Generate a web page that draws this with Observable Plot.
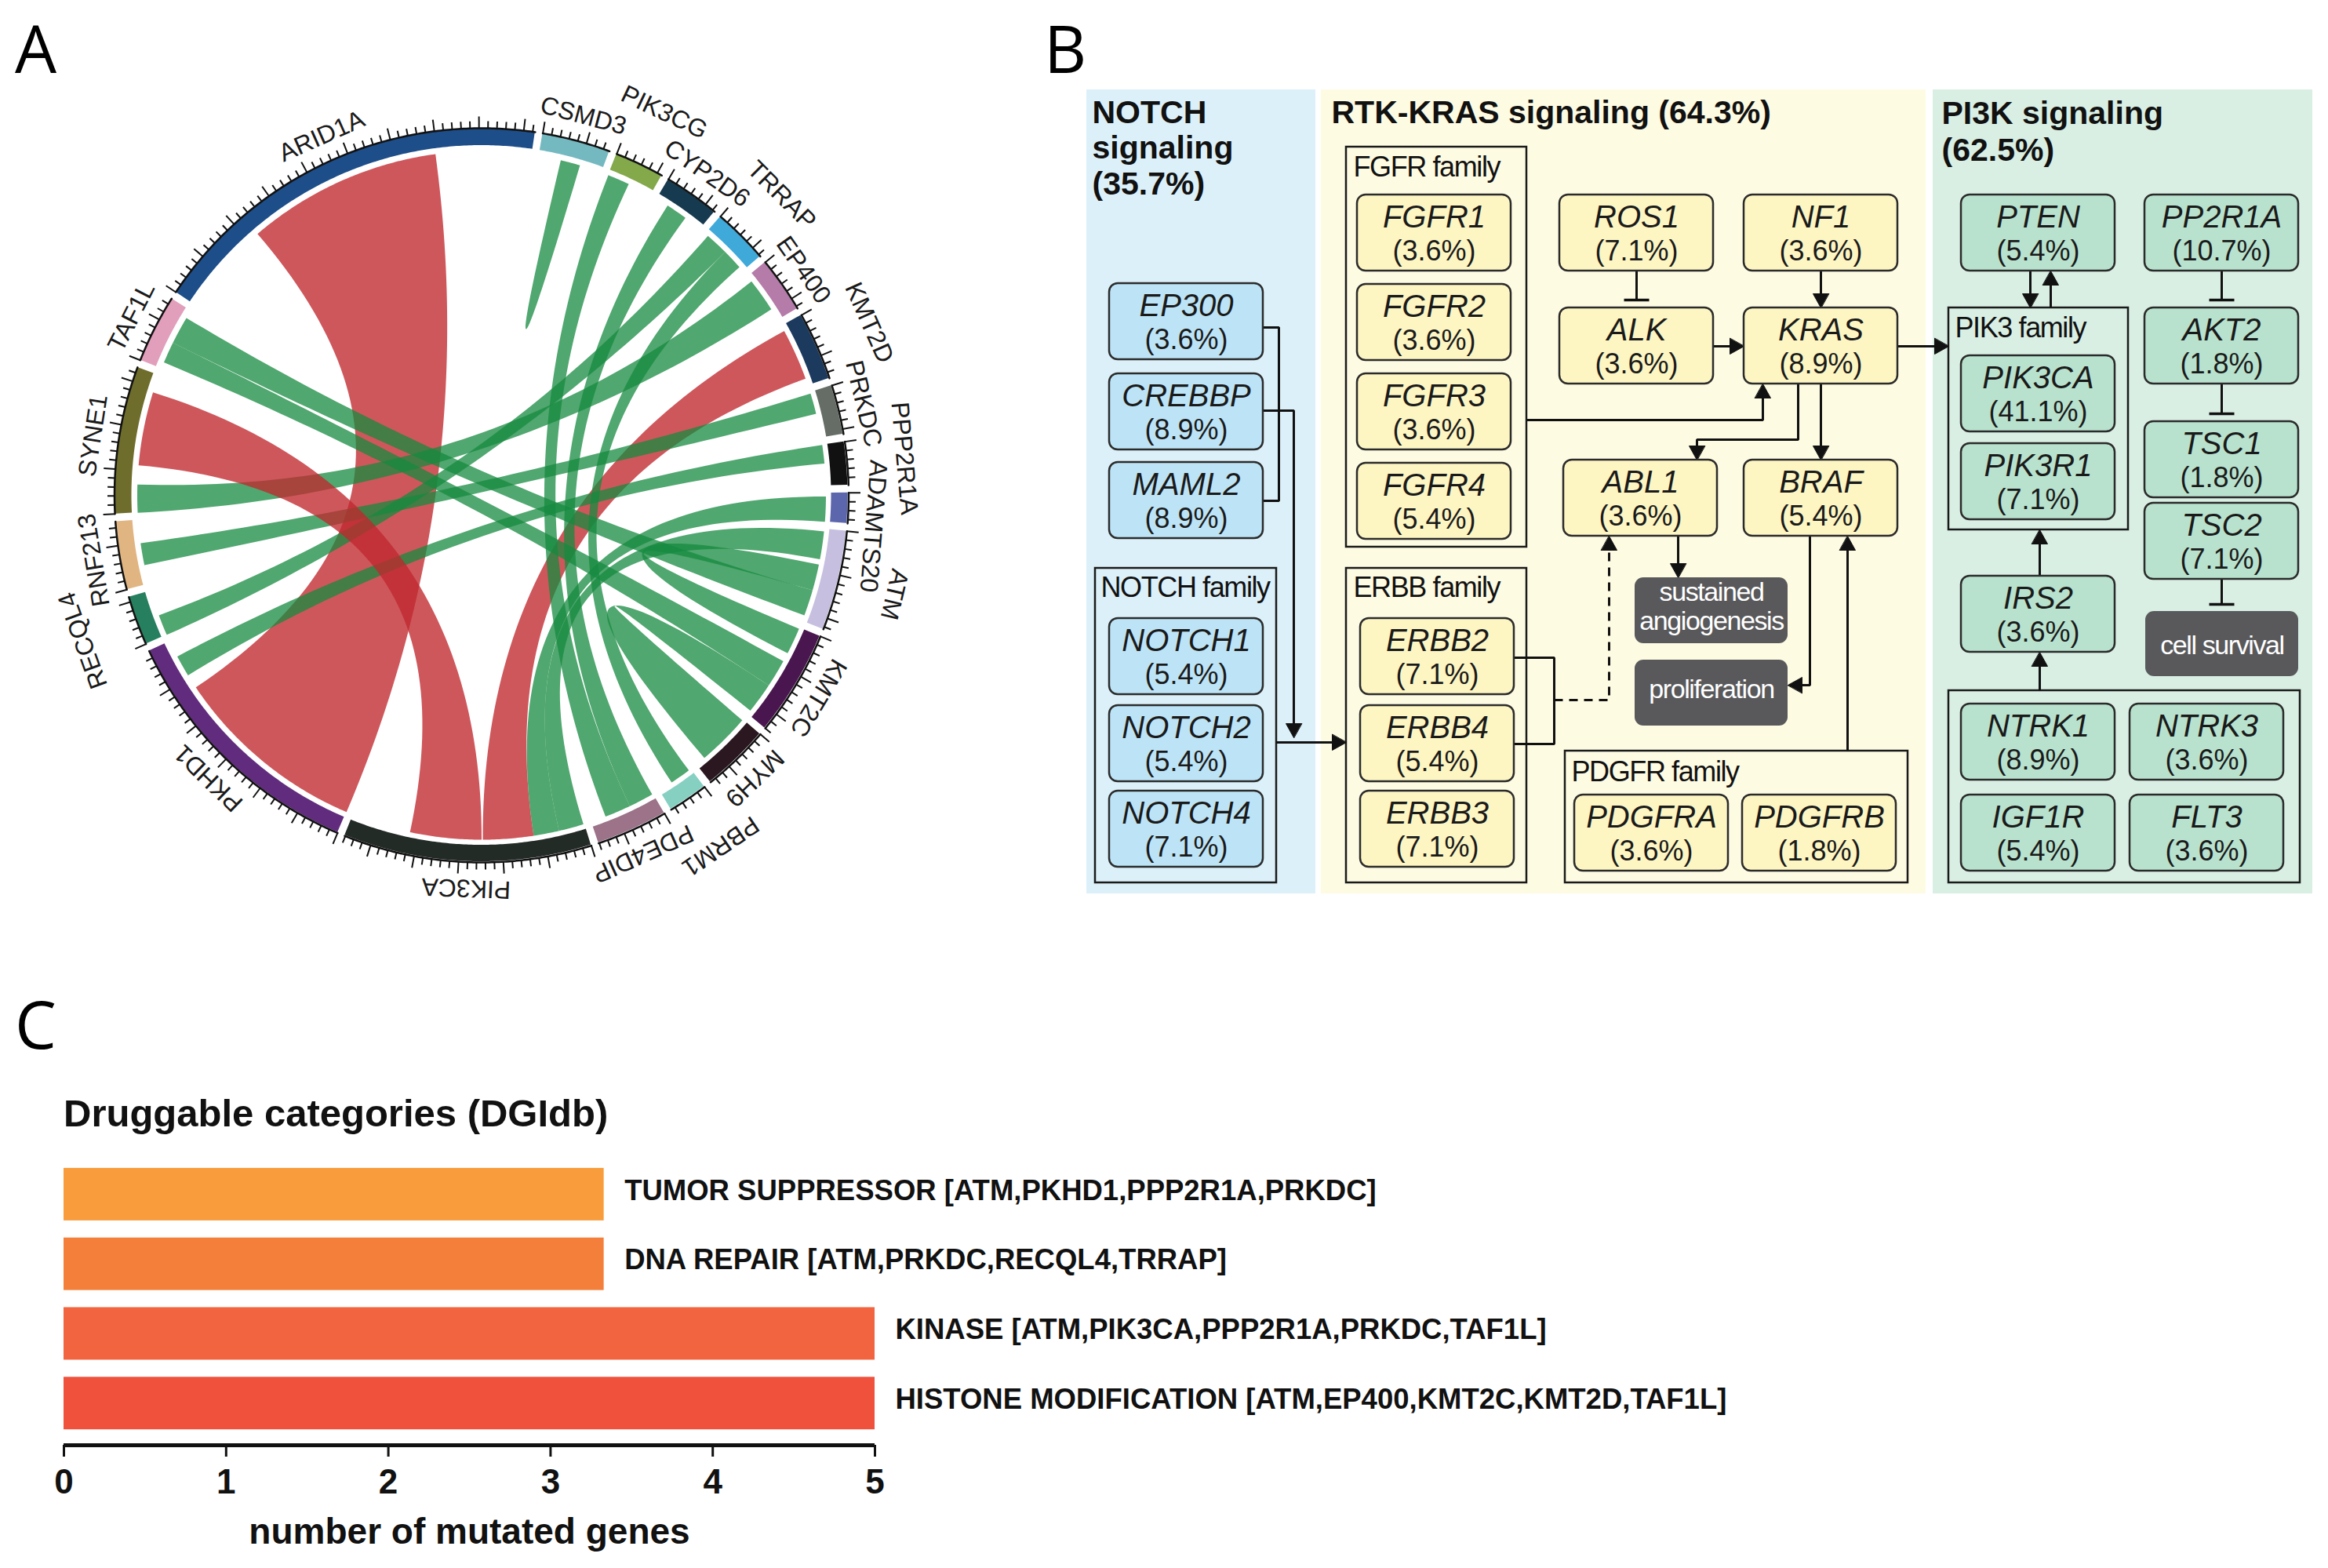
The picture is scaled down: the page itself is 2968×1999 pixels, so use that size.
<!DOCTYPE html>
<html><head><meta charset="utf-8">
<script src="https://cdn.jsdelivr.net/npm/d3@7"></script>
<script src="https://cdn.jsdelivr.net/npm/@observablehq/plot@0.6"></script>
<style>
html,body{margin:0;padding:0;background:#fff;}
#page{position:relative;width:2968px;height:1999px;overflow:hidden;font-family:"Liberation Sans",Arial,sans-serif;}
.letter{position:absolute;font-family:"Open Sans",sans-serif;font-size:84px;line-height:1;color:#000;}
.abs{position:absolute;}
#titleC{position:absolute;left:81px;top:1395px;font-weight:bold;font-size:49px;line-height:1;color:#111;font-family:"Liberation Sans",Arial,sans-serif;}
g[font-family*="Arial"] text{letter-spacing:-1.4px;}
</style></head>
<body><div id="page">
<div class="letter" style="left:19px;top:19px">A</div>
<div class="letter" style="left:1331px;top:19px">B</div>
<div class="letter" style="left:19px;top:1263px">C</div>
<div id="titleC">Druggable categories (DGIdb)</div>
<div id="plotA" class="abs" style="left:0;top:0"></div>
<div id="plotB" class="abs" style="left:1370px;top:100px"></div>
<div id="plotC" class="abs" style="left:0;top:1440px"></div>
</div>
<script>
// ================= DATA =================
// Panel A: circos segments (clockwise from ARID1A) and their sizes
const geneNames = ["ARID1A","CSMD3","PIK3CG","CYP2D6","TRRAP","EP400","KMT2D","PRKDC","PPP2R1A","ADAMTS20","ATM","KMT2C","MYH9","PBRM1","PDE4DIP","PIK3CA","PKHD1","RECQL4","RNF213","SYNE1","TAF1L"];
const geneSizes = [64.8,10.8,7.8,8.8,8.8,8.8,10.8,7.8,6.8,4.8,15.8,16.8,10.8,6.3,11.3,39.3,41.8,7.8,10.8,23.3,10.8];
const geneColors = ["#1d4e89","#74b9c0","#83a94a","#163a4f","#3fa9da","#b57ba9","#1b3a5e","#666d66","#111111","#5b66ad","#c6bfdf","#4a1650","#2b1720","#86d0c2","#9c7389","#232b27","#612c7e","#268060","#e0b582","#6f6d2c","#e19fbc"];
const farLabels = ["PIK3CG","TRRAP","KMT2D","PPP2R1A","ATM","PBRM1","RECQL4"];
const labelNudge = {ADAMTS20: 2.5};
// links: [geneA, fromA, toA, geneB, fromB, toB] (offsets within each segment)
const greenLinks = [
 ["CSMD3",3.7,5.4,"CSMD3",5.4,7.0],
 ["PIK3CG",0,3.7,"PDE4DIP",4.4,8.8],
 ["CYP2D6",2.1,5.7,"PDE4DIP",0.2,4.4],
 ["TRRAP",0.5,4.4,"RECQL4",0,3.5],
 ["TRRAP",4.4,7.9,"PBRM1",0.4,3.9],
 ["EP400",1,6.7,"SYNE1",0,4.7],
 ["PRKDC",0.2,3.7,"RNF213",3.2,6.9],
 ["PPP2R1A",0,3.1,"PKHD1",35.4,39],
 ["ADAMTS20",0.6,4.8,"PIK3CA",4.4,8.7],
 ["ATM",0.4,5.1,"PIK3CA",0.2,4.4],
 ["ATM",6,10.4,"KMT2C",0.2,4.7],
 ["ATM",10.4,14.8,"TAF1L",4.7,9.4],
 ["KMT2C",6.2,10.9,"TAF1L",1.1,4.7],
 ["KMT2C",10.9,16.1,"MYH9",0.2,9.1]
];
const redLinks = [
 ["ARID1A",15.8,48.7,"PKHD1",0,33],
 ["KMT2D",0.9,9.6,"PIK3CA",8.7,17.2],
 ["SYNE1",7.9,20.3,"PIK3CA",17.4,29.4]
];

// Panel B: pathway genes and mutation frequencies
const notchGenes = ["EP300","CREBBP","MAML2","NOTCH1","NOTCH2","NOTCH4"];
const notchPct   = ["3.6","8.9","8.9","5.4","5.4","7.1"];
const rtkGenes = ["FGFR1","FGFR2","FGFR3","FGFR4","ROS1","NF1","ALK","KRAS","ABL1","BRAF","ERBB2","ERBB4","ERBB3","PDGFRA","PDGFRB"];
const rtkPct   = ["3.6","3.6","3.6","5.4","7.1","3.6","3.6","8.9","3.6","5.4","7.1","5.4","7.1","3.6","1.8"];
const pi3kGenes = ["PTEN","PP2R1A","PIK3CA","PIK3R1","AKT2","TSC1","TSC2","IRS2","NTRK1","NTRK3","IGF1R","FLT3"];
const pi3kPct   = ["5.4","10.7","41.1","7.1","1.8","1.8","7.1","3.6","8.9","3.6","5.4","3.6"];
const pathwayTitles = [["NOTCH","signaling","(35.7%)"],["RTK-KRAS signaling (64.3%)"],["PI3K signaling","(62.5%)"]];
const familyNames = ["NOTCH family","FGFR family","ERBB family","PDGFR family","PIK3 family",""];
const outcomes = [["sustained","angiogenesis"],["proliferation"],["cell survival"]];

// Panel C: druggable categories
const categories = ["TUMOR SUPPRESSOR [ATM,PKHD1,PPP2R1A,PRKDC]","DNA REPAIR [ATM,PRKDC,RECQL4,TRRAP]","KINASE [ATM,PIK3CA,PPP2R1A,PRKDC,TAF1L]","HISTONE MODIFICATION [ATM,EP400,KMT2C,KMT2D,TAF1L]"];
const categoryValues = [3.33,3.33,5,5];
const categoryColors = ["#f89c3c","#f47f3a","#f2633f","#f0513d"];
const xTicks = [0,1,2,3,4,5];

// ================= PANEL A (chord diagram) =================
(function(){
  const cx=613.5, cy=631, W=1240, H=1250;
  const GAP=1.2, START=-56.4, R_IN=446, R_OUT=467, R_AX=468, R_LINK=439;
  let acc=START;
  const genes=geneNames.map((name,i)=>{const g={name,start:acc,end:acc+geneSizes[i],color:geneColors[i]};acc+=geneSizes[i]+GAP;return g;});
  const byName=Object.fromEntries(genes.map(g=>[g.name,g]));
  const P=(deg,r)=>{const a=deg*Math.PI/180;return {x:r*Math.sin(a),y:-r*Math.cos(a)};};
  const arc=(a0,a1,r)=>{const n=Math.max(2,Math.ceil(Math.abs(a1-a0)/0.4));return d3.range(n+1).map(k=>P(a0+(a1-a0)*k/n,r));};
  const ring=genes.flatMap(g=>arc(g.start,g.end,1).map(u=>({gene:g.name,color:g.color,x1:u.x*R_OUT,y1:u.y*R_OUT,x2:u.x*R_IN,y2:u.y*R_IN})));
  const axisPts=genes.flatMap(g=>arc(g.start,g.end,R_AX).map(p=>({...p,gene:g.name})));
  const ticks=genes.flatMap(g=>{const out=[];for(let k=0;k*1.4<=g.end-g.start+0.01;k++){const a=g.start+k*1.4;const L=k%5===0?15:9;const p0=P(a,R_AX),p1=P(a,R_AX+L);out.push({x1:p0.x,y1:p0.y,x2:p1.x,y2:p1.y});}return out;});
  function ribbon(l,id){
    const [ga,a0,a1,gb,b0,b1]=l;const A=byName[ga],B=byName[gb];
    const SA=arc(A.start+a0,A.start+a1,R_LINK),TB=arc(B.start+b0,B.start+b1,R_LINK);
    const q=(p,r)=>d3.range(1,60).map(k=>{const t=k/60,u=(1-t)*(1-t),w=t*t;return {x:u*p.x+w*r.x,y:u*p.y+w*r.y};});
    return [...SA,...q(SA[SA.length-1],TB[0]),...TB,...q(TB[TB.length-1],SA[0])].map(p=>({...p,id}));
  }
  const redA=redLinks.slice(0,2).flatMap((l,i)=>ribbon(l,"r"+i));
  const redB=redLinks.slice(2).flatMap((l,i)=>ribbon(l,"rb"+i));
  const green=greenLinks.flatMap((l,i)=>ribbon(l,"g"+i));
  const labels=genes.map(g=>{const mid=(g.start+g.end)/2+(labelNudge[g.name]||0);const r=farLabels.includes(g.name)?541:501;const p=P(mid,r);return {name:g.name,x:p.x,y:p.y,rot:mid};});
  const chart=Plot.plot({
    width:W,height:H,margin:0,
    x:{domain:[-cx,W-cx],range:[0,W],axis:null},
    y:{domain:[-cy,H-cy],range:[0,H],axis:null},
    color:{type:"identity"},
    style:{fontFamily:"Liberation Sans",background:"transparent",overflow:"visible"},
    marks:[
      Plot.line(redA,{x:"x",y:"y",z:"id",fill:"#c0282e",fillOpacity:0.78,stroke:"none"}),
      Plot.line(green,{x:"x",y:"y",z:"id",fill:"#15893f",fillOpacity:0.75,stroke:"none"}),
      Plot.line(redB,{x:"x",y:"y",z:"id",fill:"#c0282e",fillOpacity:0.78,stroke:"none"}),
      Plot.area(ring,{x1:"x1",y1:"y1",x2:"x2",y2:"y2",z:"gene",fill:"color"}),
      Plot.line(axisPts,{x:"x",y:"y",z:"gene",stroke:"#111",strokeWidth:2.5}),
      Plot.link(ticks,{x1:"x1",y1:"y1",x2:"x2",y2:"y2",stroke:"#111",strokeWidth:2}),
      Plot.text(labels,{x:"x",y:"y",text:"name",rotate:"rot",fontSize:32,fill:"#1a1a1a",textAnchor:"middle",lineAnchor:"middle"})
    ]
  });
  document.getElementById("plotA").appendChild(chart);
})();

// ================= PANEL B (pathway diagram) =================
(function(){
  const BW=196,BH=97;
  const bg={blue:"#dcf0f9",yellow:"#fefbe3",green:"#d9efe4"};
  const boxFill={blue:"#bde4f6",yellow:"#fdf6c3",green:"#b8e2ce"};
  // layout (top-left corner of each gene box, px)
  const layout={
    EP300:[1414,361],CREBBP:[1414,476],MAML2:[1414,589],NOTCH1:[1414,788],NOTCH2:[1414,899],NOTCH4:[1414,1008],
    FGFR1:[1730,248],FGFR2:[1730,362],FGFR3:[1730,476],FGFR4:[1730,590],ROS1:[1988,248],NF1:[2223,248],ALK:[1988,392],KRAS:[2223,392],
    ABL1:[1993,586],BRAF:[2223,586],ERBB2:[1734,788],ERBB4:[1734,899],ERBB3:[1734,1008],PDGFRA:[2007,1013],PDGFRB:[2221,1013],
    PTEN:[2500,248],PP2R1A:[2734,248],PIK3CA:[2500,453],PIK3R1:[2500,565],AKT2:[2734,392],TSC1:[2734,537],TSC2:[2734,641],
    IRS2:[2500,734],NTRK1:[2500,897],NTRK3:[2715,897],IGF1R:[2500,1013],FLT3:[2715,1013]
  };
  const panels=[{x1:1385,x2:1677,y1:114,y2:1139,fill:bg.blue},{x1:1684,x2:2455,y1:114,y2:1139,fill:bg.yellow},{x1:2464,x2:2948,y1:114,y2:1139,fill:bg.green}];
  const families=[[1396,1627,724,1125,1403,760],[1716,1946,187,697,1725,224],[1716,1946,724,1125,1725,760],[1995,2432,957,1125,2003,995],[2484,2713,392,675,2492,429],[2484,2932,880,1125,0,0]]
    .map((f,i)=>({x1:f[0],x2:f[1],y1:f[2],y2:f[3],lx:f[4],ly:f[5],name:familyNames[i]}));
  const titleLayout=[[1392,[156,201,247]],[1697,[156]],[2475,[157,204]]];
  const titles=pathwayTitles.flatMap((lines,i)=>lines.map((t,j)=>({t,x:titleLayout[i][0],y:titleLayout[i][1][j]})));
  const mk=(names,pcts,panel)=>names.map((n,i)=>({name:n,pct:"("+pcts[i]+"%)",x:layout[n][0],y:layout[n][1],fill:boxFill[panel]}));
  const boxes=[...mk(notchGenes,notchPct,"blue"),...mk(rtkGenes,rtkPct,"yellow"),...mk(pi3kGenes,pi3kPct,"green")];
  const darkLayout=[[2084,736,195,84,[766,803]],[2084,841,195,84,[890]],[2735,779,195,83,[834]]];
  const dark=darkLayout.map((d,i)=>({x1:d[0],y1:d[1],x2:d[0]+d[2],y2:d[1]+d[3]}));
  const darkText=outcomes.flatMap((lines,i)=>lines.map((t,j)=>({t,x:darkLayout[i][0]+darkLayout[i][2]/2,y:darkLayout[i][4][j]})));
  const connectors=[
    {pts:[[1610,417],[1630,417],[1630,638],[1610,638]],end:"none"},
    {pts:[[1610,523],[1649,523],[1649,940]],end:"arrow"},
    {pts:[[1627,946],[1716,946]],end:"arrow"},
    {pts:[[2086,345],[2086,382]],end:"bar"},
    {pts:[[2321,345],[2321,392]],end:"arrow"},
    {pts:[[2184,441],[2223,441]],end:"arrow"},
    {pts:[[1946,535],[2247,535],[2247,489]],end:"arrow"},
    {pts:[[2292,489],[2292,560],[2163,560],[2163,586]],end:"arrow"},
    {pts:[[2321,489],[2321,586]],end:"arrow"},
    {pts:[[2419,441],[2484,441]],end:"arrow"},
    {pts:[[2139,683],[2139,736]],end:"arrow"},
    {pts:[[2307,683],[2307,873],[2279,873]],end:"arrow"},
    {pts:[[2355,957],[2355,683]],end:"arrow"},
    {pts:[[1930,838],[1981,838],[1981,948],[1930,948]],end:"none"},
    {pts:[[1981,892],[2051,892],[2051,683]],end:"arrow",dashed:true},
    {pts:[[2588,345],[2588,392]],end:"arrow"},
    {pts:[[2614,392],[2614,345]],end:"arrow"},
    {pts:[[2832,345],[2832,382]],end:"bar"},
    {pts:[[2832,489],[2832,527]],end:"bar"},
    {pts:[[2832,738],[2832,770]],end:"bar"},
    {pts:[[2600,734],[2600,675]],end:"arrow"},
    {pts:[[2600,880],[2600,831]],end:"arrow"}
  ];
  const lines=[],dashes=[],heads=[],bars=[];
  connectors.forEach((c,i)=>{
    const pts=c.pts.map(p=>({x:p[0],y:p[1]}));const n=pts.length;const a=pts[n-2],b=pts[n-1];
    const len=Math.hypot(b.x-a.x,b.y-a.y),ux=(b.x-a.x)/len,uy=(b.y-a.y)/len;
    if(c.end==="arrow"){
      const L=18,Wd=10;const bx=b.x-ux*L,by=b.y-uy*L;
      heads.push({id:i,x:b.x,y:b.y},{id:i,x:bx-uy*Wd,y:by+ux*Wd},{id:i,x:bx+uy*Wd,y:by-ux*Wd});
      pts[n-1]={x:b.x-ux*10,y:b.y-uy*10};
    } else if(c.end==="bar"){
      bars.push({x1:b.x-uy*16,y1:b.y+ux*16,x2:b.x+uy*16,y2:b.y-ux*16});
    }
    (c.dashed?dashes:lines).push(...pts.map(p=>({...p,id:i})));
  });
  const chart=Plot.plot({
    width:1590,height:1060,margin:0,
    x:{domain:[1370,2960],range:[0,1590],axis:null},
    y:{domain:[100,1160],range:[0,1060],axis:null},
    color:{type:"identity"},
    style:{fontFamily:"Liberation Sans",background:"transparent"},
    marks:[
      Plot.rect(panels,{x1:"x1",x2:"x2",y1:"y1",y2:"y2",fill:"fill"}),
      Plot.rect(families,{x1:"x1",x2:"x2",y1:"y1",y2:"y2",fill:"none",stroke:"#1a1a1a",strokeWidth:2.5}),
      Plot.text(families.filter(f=>f.name),{x:"lx",y:d=>d.ly-11.5,text:"name",textAnchor:"start",lineAnchor:"middle",fontSize:36,fill:"#111",fontFamily:"'Liberation Sans', Arial"}),
      Plot.text(titles,{x:"x",y:d=>d.y-13,text:"t",textAnchor:"start",lineAnchor:"middle",fontSize:41,fontWeight:"bold",fill:"#111"}),
      Plot.line(lines,{x:"x",y:"y",z:"id",stroke:"#111",strokeWidth:3,strokeLinecap:"butt",strokeLinejoin:"miter"}),
      Plot.line(dashes,{x:"x",y:"y",z:"id",stroke:"#111",strokeWidth:3,strokeDasharray:"11,8",strokeLinecap:"butt"}),
      Plot.line(heads,{x:"x",y:"y",z:"id",fill:"#111",stroke:"#111",strokeWidth:1,curve:"linear-closed"}),
      Plot.link(bars,{x1:"x1",y1:"y1",x2:"x2",y2:"y2",stroke:"#111",strokeWidth:3.5}),
      Plot.rect(boxes,{x1:"x",x2:d=>d.x+BW,y1:"y",y2:d=>d.y+BH,rx:11,fill:"fill",stroke:"#2b2b2b",strokeWidth:2.5}),
      Plot.text(boxes,{x:d=>d.x+BW/2,y:d=>d.y+28.5,text:"name",fontSize:40,fontStyle:"italic",fill:"#1a1a1a",lineAnchor:"middle"}),
      Plot.text(boxes,{x:d=>d.x+BW/2,y:d=>d.y+71.5,text:"pct",fontSize:36,fill:"#1a1a1a",lineAnchor:"middle"}),
      Plot.rect(dark,{x1:"x1",x2:"x2",y1:"y1",y2:"y2",rx:11,fill:"#59595b"}),
      Plot.text(darkText,{x:"x",y:d=>d.y-11,text:"t",fontSize:34,fill:"#ffffff",lineAnchor:"middle",fontFamily:"'Liberation Sans', Arial"})
    ]
  });
  document.getElementById("plotB").appendChild(chart);
})();

// ================= PANEL C (bar chart) =================
(function(){
  const rows=categories.map((c,i)=>({cat:c,value:categoryValues[i],i,color:categoryColors[i]}));
  const chart=Plot.plot({
    width:2300,height:559,marginLeft:81,marginRight:1185,marginTop:38,marginBottom:157,
    style:{fontFamily:"Liberation Sans",background:"transparent",overflow:"visible",color:"#111"},
    x:{domain:[0,5]},
    y:{domain:[-0.5,3.6],reverse:true,axis:null},
    color:{type:"identity"},
    marks:[
      Plot.rect(rows,{x1:d=>0,x2:"value",y1:d=>d.i-0.377,y2:d=>d.i+0.377,fill:"color"}),
      Plot.text(rows,{x:"value",y:"i",text:"cat",dx:26,dy:-5,textAnchor:"start",lineAnchor:"middle",fontSize:36.5,fontWeight:"bold",fill:"#111"}),
      Plot.ruleY([3.6],{x1:d=>0,x2:d=>5,stroke:"#111",strokeWidth:5}),
      Plot.axisX({ticks:xTicks,tickFormat:d=>String(d),tickSize:15,tickPadding:15,strokeWidth:3,fontSize:44,fontWeight:"bold",label:null}),
      Plot.text(["number of mutated genes"],{frameAnchor:"bottom",dy:111,lineAnchor:"middle",fontSize:46,fontWeight:"bold",fill:"#111"})
    ]
  });
  document.getElementById("plotC").appendChild(chart);
})();
</script>
</body></html>
